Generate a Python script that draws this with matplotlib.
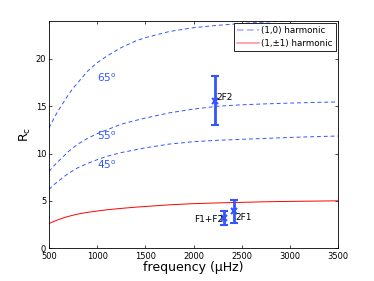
import numpy as np
import matplotlib.pyplot as plt
from matplotlib.lines import Line2D

# frequency grid (muHz) and curve values
freq = [500, 550, 600, 650, 700, 750, 800, 900, 1000, 1100, 1250, 1400, 1500, 1750,
        2000, 2250, 2500, 2750, 3000, 3250, 3500]
rc_65 = [12.7, 13.7, 14.6, 15.4, 16.2, 16.9, 17.5, 18.7, 19.6, 20.3, 21.2, 21.9, 22.25,
         22.9, 23.3, 23.55, 23.75, 23.9, 24.05, 24.15, 24.25]
rc_55 = [8.1, 8.7, 9.2, 9.7, 10.2, 10.6, 11.0, 11.6, 12.1, 12.5, 13.1, 13.5, 13.75,
         14.3, 14.7, 15.0, 15.15, 15.25, 15.33, 15.4, 15.45]
rc_45 = [6.2, 6.7, 7.1, 7.5, 7.9, 8.2, 8.5, 8.95, 9.35, 9.7, 10.1, 10.4, 10.6,
         11.0, 11.25, 11.4, 11.5, 11.6, 11.7, 11.78, 11.85]
rc_11 = [2.6, 2.82, 3.02, 3.2, 3.35, 3.48, 3.6, 3.78, 3.92, 4.05, 4.2, 4.33, 4.4,
         4.58, 4.7, 4.78, 4.84, 4.9, 4.94, 4.97, 5.0]

# observed harmonics
obs_names = ["2F2", "F1+F2", "2F1"]
obs_freq = [2225, 2320, 2420]
obs_rc = [15.6, 3.2, 3.9]
obs_lo = [13.0, 2.45, 2.65]
obs_hi = [18.2, 3.9, 5.05]

blue = "#3355ff"
fig = plt.figure(figsize=(3.74, 2.81), dpi=100)
ax = fig.add_axes([0.131, 0.117, 0.773, 0.808])

for c in [rc_65, rc_55, rc_45]:
    ax.plot(freq, c, "--", color=blue, lw=0.7, dashes=(4, 3))
ax.plot(freq, rc_11, "-", color="red", lw=0.7)

lo_err = np.array(obs_rc) - np.array(obs_lo)
hi_err = np.array(obs_hi) - np.array(obs_rc)
ax.errorbar(obs_freq, obs_rc, yerr=[lo_err, hi_err], fmt="x", color=blue,
            ms=4, mew=1.5, elinewidth=2, capsize=3, capthick=2)
ax.text(obs_freq[0] + 15, 15.7, obs_names[0], fontsize=6.5)
ax.text(obs_freq[1] - 12, 2.8, obs_names[1], fontsize=6.5, ha="right")
ax.text(obs_freq[2] + 12, 3.0, obs_names[2], fontsize=6.5)

ax.text(1000, 17.6, "65$^\\mathrm{o}$", color=blue, fontsize=7.5)
ax.text(1000, 11.4, "55$^\\mathrm{o}$", color=blue, fontsize=7.5)
ax.text(1000, 8.4, "45$^\\mathrm{o}$", color=blue, fontsize=7.5)

ax.set_xlim(500, 3500)
ax.set_ylim(0, 24)
ax.set_xticks([500, 1000, 1500, 2000, 2500, 3000, 3500])
ax.set_yticks([0, 5, 10, 15, 20])
ax.tick_params(labelsize=6, direction="in", length=2, width=0.5, top=True, right=True, pad=2)
ax.tick_params(axis="x", pad=3)
for s in ax.spines.values():
    s.set_linewidth(0.6)
ax.set_xlabel("frequency (\u03bcHz)", fontsize=9, labelpad=0)
ax.set_ylabel("R$_\\mathrm{c}$", fontsize=9, labelpad=2)

handles = [Line2D([], [], color="#aab4ff", ls="--", lw=1.2, dashes=(4, 2)),
           Line2D([], [], color="#ff9a9a", ls="-", lw=1.2)]
leg = ax.legend(handles, ["(1,0) harmonic", "(1,\u00b11) harmonic"], loc="upper right",
                fontsize=6.3, fancybox=False, framealpha=1, borderaxespad=0.25,
                handlelength=2.5, handletextpad=0.3, borderpad=0.35, labelspacing=0.4)
leg.get_frame().set_edgecolor("black")
leg.get_frame().set_linewidth(0.6)

fig.savefig("out.png", dpi=100)
